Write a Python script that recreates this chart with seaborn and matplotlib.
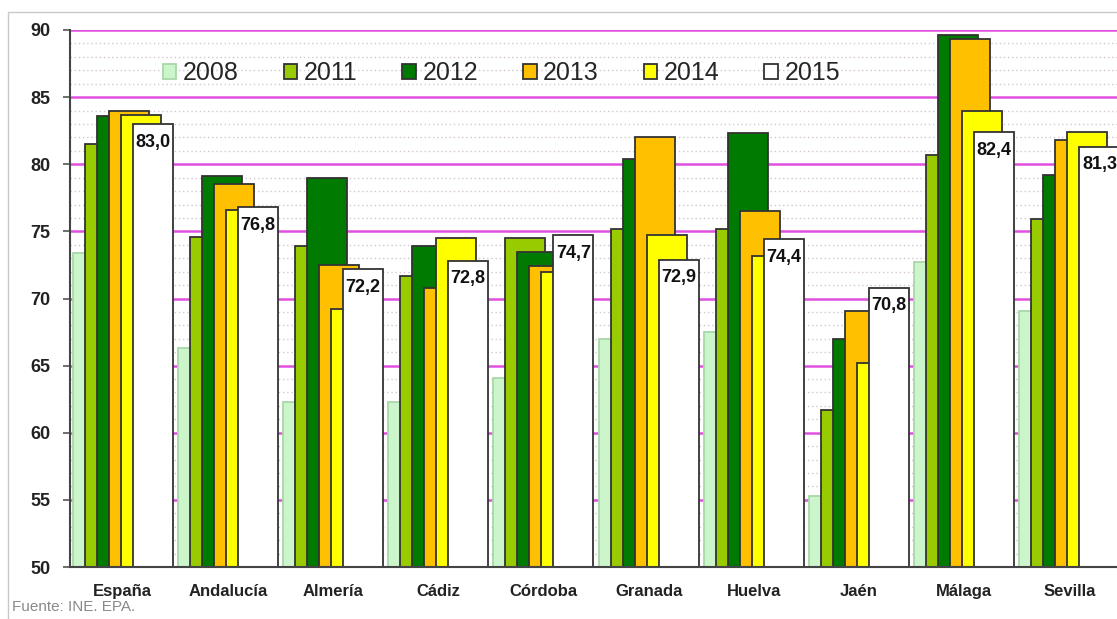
import numpy as np
import matplotlib
matplotlib.use("Agg")
import matplotlib.pyplot as plt
import seaborn as sns
from matplotlib.patches import Rectangle

regions = ['España', 'Andalucía', 'Almería', 'Cádiz', 'Córdoba',
           'Granada', 'Huelva', 'Jaén', 'Málaga', 'Sevilla']
years = ['2008', '2011', '2012', '2013', '2014', '2015']

v2008 = [73.4, 66.3, 62.3, 62.3, 64.1, 67.0, 67.5, 55.3, 72.7, 69.1]
v2011 = [81.5, 74.6, 73.9, 71.7, 74.5, 75.2, 75.2, 61.7, 80.7, 75.9]
v2012 = [83.6, 79.1, 79.0, 73.9, 73.5, 80.4, 82.3, 67.0, 89.6, 79.2]
v2013 = [84.0, 78.5, 72.5, 70.8, 72.4, 82.0, 76.5, 69.1, 89.3, 81.8]
v2014 = [83.7, 76.6, 69.2, 74.5, 72.0, 74.7, 73.2, 65.2, 84.0, 82.4]
v2015 = [83.0, 76.8, 72.2, 72.8, 74.7, 72.9, 74.4, 70.8, 82.4, 81.3]
series = [v2008, v2011, v2012, v2013, v2014, v2015]

colors = ['#ccf5cc', '#99cc00', '#007a00', '#ffc000', '#ffff00', '#ffffff']
edges = ['#a8d8a8', '#333333', '#333333', '#333333', '#333333', '#333333']
offsets = [-0.285, -0.171, -0.057, 0.057, 0.171, 0.285]

sns.set_style('white')
plt.rcParams['font.family'] = ['Liberation Sans', 'DejaVu Sans']

fig = plt.figure(figsize=(11.17, 6.19), dpi=100)
ax = fig.add_axes([70 / 1117, 52 / 619, 1052 / 1117, 537 / 619])

idx = np.arange(len(regions))
for yr, vals, col, ec, off in zip(years, series, colors, edges, offsets):
    sns.barplot(x=idx + off, y=vals, native_scale=True, width=0.38,
                color=col, edgecolor=ec, linewidth=1.3, saturation=1,
                errorbar=None, label=yr, ax=ax)

# labels on the 2015 bars
for i, v in enumerate(v2015):
    ax.annotate(f'{v:.1f}'.replace('.', ','), xy=(i + offsets[-1], v),
                xytext=(0, -13), textcoords='offset points',
                ha='center', va='center', fontsize=13, fontweight='bold',
                color='#111111')

ax.set_xlim(-0.5, 9.5)
ax.set_ylim(50, 90)
ax.set_xticks(idx)
ax.set_xticklabels(regions, fontsize=12, fontweight='bold', color='#222222')
ax.set_yticks(np.arange(50, 91, 5))
ax.set_yticks(np.arange(50, 91, 1), minor=True)
ax.tick_params(axis='y', which='major', length=5, width=1.2, color='#555555',
               pad=9, labelsize=13, left=True)
ax.tick_params(axis='y', which='minor', length=0)
ax.tick_params(axis='x', length=0, pad=12)
for lbl in ax.get_yticklabels():
    lbl.set_fontweight('bold')
    lbl.set_color('#222222')

ax.set_axisbelow(True)
ax.grid(axis='y', which='minor', color='#d4c6d4', linestyle=(0, (1, 2)),
        linewidth=1)
ax.grid(axis='y', which='major', color='#e050e0', linewidth=1.8)
ax.grid(axis='x', visible=False)

for s in ['top', 'right']:
    ax.spines[s].set_visible(False)
for s in ['left', 'bottom']:
    ax.spines[s].set_color('#444444')
    ax.spines[s].set_linewidth(1.5)
ax.set_xlabel('')
ax.set_ylabel('')

ax.legend(ncol=6, loc='center', bbox_to_anchor=(0.41, 0.92), frameon=False,
          fontsize=18, handlelength=0.55, handleheight=0.55,
          handletextpad=0.25, columnspacing=1.8, borderaxespad=0)

fig.text(12 / 1117, 1 - 607 / 619, 'Fuente: INE. EPA.', fontsize=11,
         color='#8a8a8a', va='center', ha='left')

fig.patches.append(Rectangle((8 / 1117, -0.05), 1.1, 1 - 12 / 619 + 0.05,
                             transform=fig.transFigure, fill=False,
                             edgecolor='#c8c8c8', linewidth=1))

plt.savefig('out.png', dpi=100, facecolor='white')
